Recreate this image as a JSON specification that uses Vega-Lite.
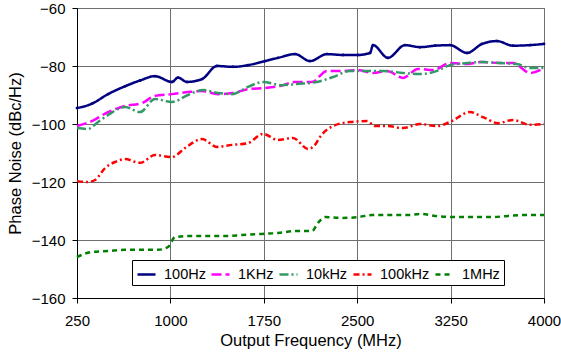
{
  "$schema": "https://vega.github.io/schema/vega-lite/v6.json",
  "width": 467,
  "height": 290,
  "autosize": "none",
  "padding": {"left": 77, "top": 8, "right": 17, "bottom": 60},
  "config": {
    "font": "Liberation Sans",
    "view": {"stroke": "#7f7f7f", "strokeWidth": 1},
    "axis": {
      "labelFont": "Liberation Sans", "titleFont": "Liberation Sans",
      "labelFontSize": 15, "titleFontSize": 16.5, "labelColor": "#000", "titleColor": "#000",
      "titleFontWeight": "normal", "gridColor": "#6f6f6f", "gridWidth": 1, "gridOpacity": 1,
      "domainColor": "#000", "domainWidth": 1, "tickColor": "#000", "tickSize": 5, "labelFlush": false
    },
    "legend": {
      "labelFont": "Liberation Sans", "labelFontSize": 14.5, "labelColor": "#000"
    }
  },
  "data": {"values": [
    {"series":"100Hz","f":250,"pn":-94.5},{"series":"100Hz","f":370,"pn":-93},{"series":"100Hz","f":499,"pn":-89.7},{"series":"100Hz","f":635,"pn":-87},{"series":"100Hz","f":756,"pn":-85},{"series":"100Hz","f":876,"pn":-83.5},{"series":"100Hz","f":1013,"pn":-85.5},{"series":"100Hz","f":1061,"pn":-84},{"series":"100Hz","f":1133,"pn":-85.5},{"series":"100Hz","f":1254,"pn":-84.5},{"series":"100Hz","f":1374,"pn":-80},{"series":"100Hz","f":1503,"pn":-80.3},{"series":"100Hz","f":1623,"pn":-79.7},{"series":"100Hz","f":1760,"pn":-78.3},{"series":"100Hz","f":1864,"pn":-77.2},{"series":"100Hz","f":2001,"pn":-75.9},{"series":"100Hz","f":2121,"pn":-78.3},{"series":"100Hz","f":2257,"pn":-75.9},{"series":"100Hz","f":2386,"pn":-76.2},{"series":"100Hz","f":2506,"pn":-76.2},{"series":"100Hz","f":2603,"pn":-75.5},{"series":"100Hz","f":2627,"pn":-72.8},{"series":"100Hz","f":2747,"pn":-77.2},{"series":"100Hz","f":2884,"pn":-72.8},{"series":"100Hz","f":3004,"pn":-73.5},{"series":"100Hz","f":3125,"pn":-73},{"series":"100Hz","f":3245,"pn":-72.8},{"series":"100Hz","f":3382,"pn":-75.5},{"series":"100Hz","f":3502,"pn":-72.4},{"series":"100Hz","f":3623,"pn":-71.4},{"series":"100Hz","f":3751,"pn":-73},{"series":"100Hz","f":3888,"pn":-72.8},{"series":"100Hz","f":4000,"pn":-72.4},
    {"series":"1KHz","f":250,"pn":-100.7},{"series":"1KHz","f":370,"pn":-99},{"series":"1KHz","f":499,"pn":-95.9},{"series":"1KHz","f":635,"pn":-93.8},{"series":"1KHz","f":772,"pn":-92.8},{"series":"1KHz","f":876,"pn":-90.3},{"series":"1KHz","f":1013,"pn":-89.7},{"series":"1KHz","f":1141,"pn":-89},{"series":"1KHz","f":1254,"pn":-88.6},{"series":"1KHz","f":1382,"pn":-89.7},{"series":"1KHz","f":1503,"pn":-89.3},{"series":"1KHz","f":1623,"pn":-88},{"series":"1KHz","f":1760,"pn":-87.6},{"series":"1KHz","f":1880,"pn":-86.9},{"series":"1KHz","f":2001,"pn":-85.5},{"series":"1KHz","f":2137,"pn":-85.5},{"series":"1KHz","f":2257,"pn":-81.7},{"series":"1KHz","f":2386,"pn":-81.7},{"series":"1KHz","f":2506,"pn":-81.4},{"series":"1KHz","f":2627,"pn":-82.4},{"series":"1KHz","f":2739,"pn":-81.7},{"series":"1KHz","f":2868,"pn":-84.1},{"series":"1KHz","f":2988,"pn":-81},{"series":"1KHz","f":3109,"pn":-81.4},{"series":"1KHz","f":3245,"pn":-79},{"series":"1KHz","f":3382,"pn":-79.3},{"series":"1KHz","f":3502,"pn":-78.6},{"series":"1KHz","f":3647,"pn":-79},{"series":"1KHz","f":3751,"pn":-79},{"series":"1KHz","f":3888,"pn":-82.4},{"series":"1KHz","f":4000,"pn":-80.7},
    {"series":"10kHz","f":250,"pn":-101.4},{"series":"10kHz","f":338,"pn":-101.7},{"series":"10kHz","f":419,"pn":-99.3},{"series":"10kHz","f":499,"pn":-96.9},{"series":"10kHz","f":635,"pn":-94.1},{"series":"10kHz","f":756,"pn":-95.9},{"series":"10kHz","f":876,"pn":-91.4},{"series":"10kHz","f":1013,"pn":-92.4},{"series":"10kHz","f":1141,"pn":-90},{"series":"10kHz","f":1262,"pn":-88.3},{"series":"10kHz","f":1382,"pn":-89.3},{"series":"10kHz","f":1495,"pn":-89.7},{"series":"10kHz","f":1623,"pn":-87.2},{"series":"10kHz","f":1744,"pn":-85.5},{"series":"10kHz","f":1896,"pn":-86.6},{"series":"10kHz","f":2017,"pn":-86.2},{"series":"10kHz","f":2177,"pn":-85.5},{"series":"10kHz","f":2306,"pn":-83.8},{"series":"10kHz","f":2442,"pn":-81.7},{"series":"10kHz","f":2579,"pn":-81.7},{"series":"10kHz","f":2707,"pn":-81.7},{"series":"10kHz","f":2868,"pn":-82.4},{"series":"10kHz","f":3004,"pn":-82.8},{"series":"10kHz","f":3141,"pn":-81.7},{"series":"10kHz","f":3245,"pn":-79.7},{"series":"10kHz","f":3382,"pn":-79},{"series":"10kHz","f":3502,"pn":-78.6},{"series":"10kHz","f":3647,"pn":-79},{"series":"10kHz","f":3783,"pn":-79.3},{"series":"10kHz","f":3888,"pn":-80.7},{"series":"10kHz","f":4000,"pn":-80.7},
    {"series":"100kHz","f":250,"pn":-119.7},{"series":"100kHz","f":338,"pn":-120},{"series":"100kHz","f":395,"pn":-119.3},{"series":"100kHz","f":475,"pn":-115.2},{"series":"100kHz","f":555,"pn":-113.1},{"series":"100kHz","f":635,"pn":-112.1},{"series":"100kHz","f":756,"pn":-113.4},{"series":"100kHz","f":876,"pn":-110.7},{"series":"100kHz","f":1013,"pn":-111.4},{"series":"100kHz","f":1117,"pn":-108.3},{"series":"100kHz","f":1254,"pn":-105.2},{"series":"100kHz","f":1374,"pn":-107.9},{"series":"100kHz","f":1495,"pn":-107.2},{"series":"100kHz","f":1623,"pn":-106.6},{"series":"100kHz","f":1744,"pn":-103.4},{"series":"100kHz","f":1864,"pn":-105.5},{"series":"100kHz","f":1984,"pn":-104.8},{"series":"100kHz","f":2105,"pn":-108.6},{"series":"100kHz","f":2161,"pn":-107.2},{"series":"100kHz","f":2201,"pn":-104.5},{"series":"100kHz","f":2306,"pn":-100.7},{"series":"100kHz","f":2442,"pn":-99.3},{"series":"100kHz","f":2579,"pn":-99},{"series":"100kHz","f":2643,"pn":-100.7},{"series":"100kHz","f":2739,"pn":-100.7},{"series":"100kHz","f":2868,"pn":-101.4},{"series":"100kHz","f":3004,"pn":-100},{"series":"100kHz","f":3141,"pn":-100.7},{"series":"100kHz","f":3245,"pn":-99.3},{"series":"100kHz","f":3406,"pn":-95.9},{"series":"100kHz","f":3510,"pn":-97.6},{"series":"100kHz","f":3631,"pn":-99.7},{"series":"100kHz","f":3751,"pn":-98.6},{"series":"100kHz","f":3888,"pn":-100.3},{"series":"100kHz","f":4000,"pn":-100},
    {"series":"1MHz","f":250,"pn":-145.9},{"series":"1MHz","f":370,"pn":-144.1},{"series":"1MHz","f":499,"pn":-143.8},{"series":"1MHz","f":635,"pn":-143.4},{"series":"1MHz","f":772,"pn":-143.4},{"series":"1MHz","f":900,"pn":-143.4},{"series":"1MHz","f":981,"pn":-142.4},{"series":"1MHz","f":1037,"pn":-139},{"series":"1MHz","f":1173,"pn":-138.6},{"series":"1MHz","f":1302,"pn":-138.6},{"series":"1MHz","f":1438,"pn":-138.6},{"series":"1MHz","f":1575,"pn":-138.3},{"series":"1MHz","f":1736,"pn":-137.9},{"series":"1MHz","f":1864,"pn":-137.6},{"series":"1MHz","f":2001,"pn":-136.9},{"series":"1MHz","f":2137,"pn":-136.9},{"series":"1MHz","f":2185,"pn":-134.1},{"series":"1MHz","f":2241,"pn":-132.1},{"series":"1MHz","f":2378,"pn":-132.4},{"series":"1MHz","f":2506,"pn":-132.1},{"series":"1MHz","f":2619,"pn":-131.4},{"series":"1MHz","f":2780,"pn":-131.4},{"series":"1MHz","f":2908,"pn":-131.4},{"series":"1MHz","f":3004,"pn":-131},{"series":"1MHz","f":3125,"pn":-131.7},{"series":"1MHz","f":3309,"pn":-132.1},{"series":"1MHz","f":3446,"pn":-132.1},{"series":"1MHz","f":3582,"pn":-132.1},{"series":"1MHz","f":3711,"pn":-131.7},{"series":"1MHz","f":3847,"pn":-131.4},{"series":"1MHz","f":4000,"pn":-131.4}
  ]},
  "encoding": {
    "x": {"field": "f", "type": "quantitative",
      "scale": {"domain": [250, 4000], "nice": false, "zero": false},
      "axis": {"values": [250, 1000, 1750, 2500, 3250, 4000], "title": "Output Frequency (MHz)", "titlePadding": 4, "labelPadding": 10, "format": "d"}},
    "y": {"field": "pn", "type": "quantitative",
      "scale": {"domain": [-160, -60], "nice": false, "zero": false},
      "axis": {"values": [-160, -140, -120, -100, -80, -60], "title": "Phase Noise (dBc/Hz)", "titlePadding": 8, "labelPadding": 7}}
  },
  "layer": [
    {
      "mark": {"type": "line", "interpolate": "monotone", "strokeWidth": 2.5},
      "encoding": {
        "color": {"field": "series", "type": "nominal",
          "scale": {"domain": ["100Hz", "1KHz", "10kHz", "100kHz", "1MHz"], "range": ["#000080", "#ff00ff", "#339966", "#ff0000", "#008000"]},
          "legend": {"title": null, "orient": "none", "legendX": 55, "legendY": 252, "direction": "horizontal",
            "strokeColor": "#000", "fillColor": "#fff", "padding": 4, "symbolType": "stroke", "symbolSize": 324,
            "symbolStrokeWidth": 2.5, "labelOffset": 7, "columnPadding": 0}},
        "strokeDash": {"field": "series", "type": "nominal",
          "scale": {"domain": ["100Hz", "1KHz", "10kHz", "100kHz", "1MHz"], "range": [[1, 0], [10, 4], [9, 3, 2, 3], [6, 3, 2, 3], [5, 4]]},
          "legend": {"title": null, "orient": "none", "legendX": 55, "legendY": 252, "direction": "horizontal",
            "strokeColor": "#000", "fillColor": "#fff", "padding": 4, "symbolType": "stroke", "symbolSize": 324,
            "symbolStrokeWidth": 2.5, "labelOffset": 7, "columnPadding": 0}}
      }
    },
    {
      "transform": [{"filter": "datum.series === '100Hz'"}],
      "mark": {"type": "point", "filled": true, "size": 8, "color": "#000080", "opacity": 1}
    }
  ]
}
